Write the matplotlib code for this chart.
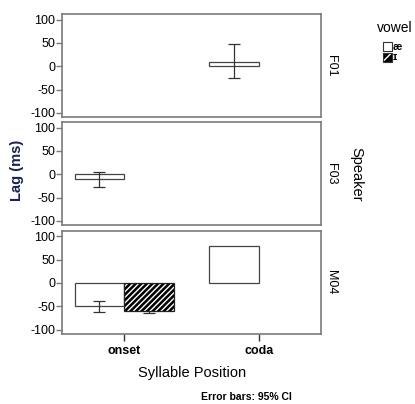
import numpy as np
import matplotlib.pyplot as plt
from matplotlib.patches import Rectangle

plt.rcParams['font.family'] = ['Liberation Sans', 'DejaVu Sans']

positions = ["onset", "coda"]
speakers = ["F01", "F03", "M04"]
vowels = ["æ", "ɪ"]

# mean lag (ms) per speaker, one entry per syllable position; nan = no data
ae_mean = {"F01": [np.nan, 10], "F03": [-11, np.nan], "M04": [-50, 80]}
ih_mean = {"F01": [np.nan, np.nan], "F03": [np.nan, np.nan], "M04": [-60, np.nan]}
# 95% CI (low, high)
ae_ci = {"F01": [None, (-25, 48)], "F03": [(-28, 5), None], "M04": [(-62, -38), None]}
ih_ci = {"F01": [None, None], "F03": [None, None], "M04": [(-65, -55), None]}

yticks = [100, 50, 0, -50, -100]

W, H = 415, 404
fig = plt.figure(figsize=(W / 100, H / 100), dpi=100)

panel_tops = [14, 122, 230.7]
panel_h = 103
left, right = 62, 321
bw = 0.37
spine_col = "#7a7a7a"


def draw_err(ax, x, ci, z):
    if ci is None:
        return
    lo, hi = ci
    mid = (lo + hi) / 2
    ax.errorbar(x, mid, yerr=[[mid - lo], [hi - mid]], fmt="none", ecolor="#333333",
                elinewidth=0.9, capsize=4.5, capthick=0.9, zorder=z)


def fig_box(x, y, size, hatched):
    # legend swatch in pixel coords (top-left origin)
    xy = (x / W, 1 - (y + size) / H)
    wh = (size / W, size / H)
    if hatched:
        fig.add_artist(Rectangle(xy, *wh, transform=fig.transFigure, facecolor="black",
                                 edgecolor="white", hatch="///", linewidth=0))
    else:
        fig.add_artist(Rectangle(xy, *wh, transform=fig.transFigure, facecolor="white",
                                 linewidth=0))
    fig.add_artist(Rectangle(xy, *wh, transform=fig.transFigure, facecolor="none",
                             edgecolor="#333333", linewidth=0.8))


axes = []
for i, sp in enumerate(speakers):
    top = panel_tops[i]
    ax = fig.add_axes([left / W, 1 - (top + panel_h) / H, (right - left) / W, panel_h / H])
    axes.append(ax)
    xs = np.arange(len(positions))
    for j in range(len(positions)):
        a = ae_mean[sp][j]
        if not np.isnan(a):
            ax.bar(xs[j] - bw / 2, a, width=bw, facecolor="white", edgecolor="#444444",
                   linewidth=0.9, zorder=2)
        draw_err(ax, xs[j] - bw / 2, ae_ci[sp][j], 3)
        b = ih_mean[sp][j]
        if not np.isnan(b):
            draw_err(ax, xs[j] + bw / 2, ih_ci[sp][j], 1)
            ax.bar(xs[j] + bw / 2, b, width=bw, facecolor="black", edgecolor="white",
                   hatch="//////", linewidth=0, zorder=2)
            ax.bar(xs[j] + bw / 2, b, width=bw, facecolor="none", edgecolor="#222222",
                   linewidth=0.9, zorder=2)
    ax.set_xlim(-0.464, 1.464)
    ax.set_ylim(-109, 112)
    ax.set_yticks(yticks)
    ax.set_yticklabels([str(t) for t in yticks], fontsize=9)
    ax.tick_params(axis="y", direction="out", length=4, width=1, color=spine_col, pad=1)
    for s in ax.spines.values():
        s.set_color(spine_col)
        s.set_linewidth(1.2)
    ax.text(1.04, 0.5, sp, transform=ax.transAxes, rotation=-90, ha="center",
            va="center", fontsize=9)
    if i < 2:
        ax.set_xticks([])
    else:
        ax.set_xticks(xs)
        ax.set_xticklabels(positions, fontsize=9, fontweight="bold")
        ax.tick_params(axis="x", direction="out", length=5, width=1, color="#333333", pad=3)

fig.text(17 / W, 1 - 170 / H, "Lag (ms)", rotation=90, ha="center", va="center",
         fontsize=10.5, fontweight="bold", color="#16234d")
fig.text(356 / W, 1 - 174 / H, "Speaker", rotation=-90, ha="center", va="center",
         fontsize=10.5)
fig.text(192 / W, 1 - 373 / H, "Syllable Position", ha="center", va="center", fontsize=10.5)
fig.text(246 / W, 1 - 397 / H, "Error bars: 95% CI", ha="center", va="center",
         fontsize=7.5, fontweight="bold")

# legend
fig.text(377 / W, 1 - 28 / H, "vowel", ha="left", va="center", fontsize=10)
fig_box(383, 42, 8.5, False)
fig_box(383, 53, 8.5, True)
fig.text(393 / W, 1 - 46.5 / H, vowels[0], ha="left", va="center", fontsize=7.5,
         fontweight="bold")
fig.text(393 / W, 1 - 57.5 / H, vowels[1], ha="left", va="center", fontsize=7.5,
         fontweight="bold")

fig.savefig("out.png", dpi=100)
